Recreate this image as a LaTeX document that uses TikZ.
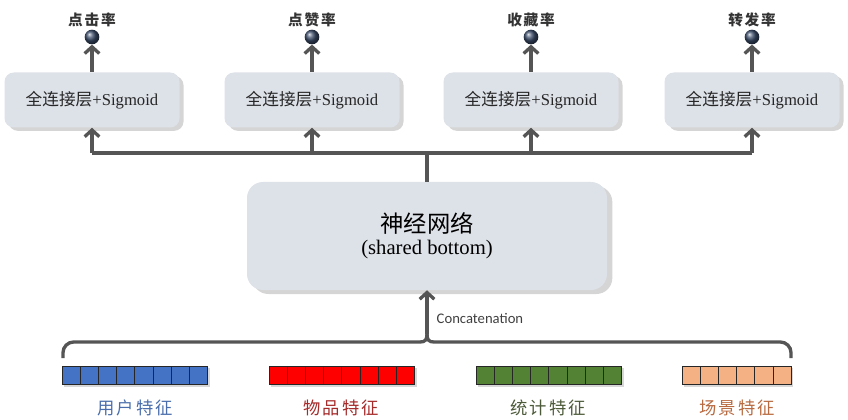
\documentclass[tikz,border=0pt]{standalone}
\usepackage{fontspec}
\setmainfont{Liberation Serif}
\newfontfamily\cjk{Noto Sans CJK SC}
\newfontfamily\cjksp[LetterSpace=12]{Noto Sans CJK SC}
\newfontfamily\cali{Carlito}
\usetikzlibrary{arrows.meta,shadows,calc}
\definecolor{boxfill}{HTML}{DDE1E8}
\definecolor{conncol}{HTML}{555555}
\definecolor{ballcol}{HTML}{3B4D6B}
\definecolor{cblue}{HTML}{4472C4}
\definecolor{cred}{HTML}{FF0000}
\definecolor{cgreen}{HTML}{548235}
\definecolor{corange}{HTML}{F4B183}
\definecolor{lblue}{HTML}{4A6EAB}
\definecolor{lred}{HTML}{A52A2A}
\definecolor{lgreen}{HTML}{4D5A3A}
\definecolor{lorange}{HTML}{B86A40}
\begin{document}
\begin{tikzpicture}[x=0.75pt,y=-0.75pt,
  fcbox/.style={draw=none, fill=boxfill, rounded corners=7pt,
    minimum width=131.25pt, minimum height=41.25pt, inner sep=0pt,
    drop shadow={shadow xshift=3pt, shadow yshift=-2.5pt, opacity=0.3, fill=black!55},
    font=\fontsize{12.5}{14}\selectfont, text=black!85},
  nnbox/.style={draw=none, fill=boxfill, rounded corners=12pt,
    minimum width=270pt, minimum height=81pt, inner sep=0pt, align=center,
    drop shadow={shadow xshift=4pt, shadow yshift=-3pt, opacity=0.3, fill=black!55}},
  ball/.style={circle, inner sep=0pt, minimum size=11pt, ball color=ballcol},
  toplabel/.style={font=\cjksp\bfseries\fontsize{11}{12}\selectfont, text=black!80},
  featlabel/.style={font=\cjksp\fontsize{13}{14}\selectfont},
  line/.style={draw=conncol, line width=2.5pt},
  conn/.style={line, -{Straight Barb[length=5pt,width=11pt]}},
  cell/.style={draw=black!85, line width=0.7pt}
]
\useasboundingbox (0,0) rectangle (848,420);

% top boxes
\foreach \i/\x/\lab in {1/92/点击率,2/312/点赞率,3/531/收藏率,4/752/转发率}{
  \node[fcbox] (f\i) at (\x,100) {{\cjk 全连接层}+Sigmoid};
  \node[ball] (o\i) at (\x,37) {};
  \node[toplabel] (t\i) at (\x,20) {\lab};
  \draw[conn] (f\i.north) -- (o\i.south);
  \coordinate (j\i) at (\x,153);
}

% shared bottom
\node[nnbox] (nn) at (427,236) {{\cjk\fontsize{17.5}{20}\selectfont 神经网络}\\[3pt]{\fontsize{15.5}{17}\selectfont (shared bottom)}};

% bus
\coordinate (jn) at (nn.north |- j1);
\draw[line] (j1) -- (j4);
\draw[line] (nn.north) -- (jn);
\foreach \i in {1,...,4}{
  \draw[conn] (j\i) -- (f\i.south);
}

% brace
\coordinate (bl) at (63,358);
\coordinate (br) at (791,358);
\coordinate (cusp) at (427,334);
\draw[line, rounded corners=8pt] (bl) -- (63,342) -- (420,342);
\draw[line] (420,342) .. controls (425,342) and (427,340) .. (cusp);
\draw[line, rounded corners=8pt] (br) -- (791,342) -- (434,342);
\draw[line] (434,342) .. controls (429,342) and (427,340) .. (cusp);
\draw[conn] (cusp) -- (nn.south);
\node[anchor=west, font=\cali\fontsize{11}{12}\selectfont, text=black!75] (cat) at (432,318) {Concatenation};

% feature bars
\foreach \name/\x/\n/\col in {b1/62/8/cblue, b2/269/8/cred, b3/476/8/cgreen, b4/682/6/corange}{
  \fill[black!45, opacity=0.35] (\x+2,368) rectangle ++(\n*18.2,19);
  \foreach \k in {1,...,\n}{
    \draw[cell, fill=\col] ({\x+(\k-1)*18.2},366) rectangle ++(18.2,18.5);
  }
}
\node[featlabel, text=lblue] (l1) at (135,408) {用户特征};
\node[featlabel, text=lred] (l2) at (341,408) {物品特征};
\node[featlabel, text=lgreen] (l3) at (548,408) {统计特征};
\node[featlabel, text=lorange] (l4) at (737,408) {场景特征};
\end{tikzpicture}
\end{document}
